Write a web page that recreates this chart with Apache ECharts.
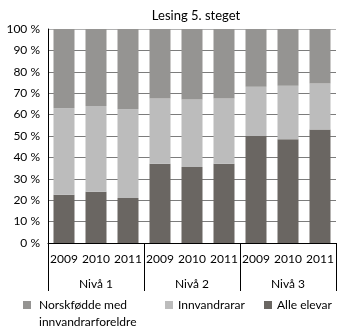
<!DOCTYPE html>
<html>
<head>
<meta charset="utf-8">
<script src="https://cdn.jsdelivr.net/npm/echarts@6/dist/echarts.min.js"></script>
<style>html,body{margin:0;padding:0;background:#fff}#c{width:350px;height:333px}</style>
</head>
<body>
<div id="c"></div>
<script>
var years = ['2009','2010','2011','2009','2010','2011','2009','2010','2011'];
var levels = ['Nivå 1','Nivå 2','Nivå 3'];
var alleElevar = [22.5, 24, 21, 37, 35.5, 37, 50, 48.5, 53];
var innvandrarar = [40.5, 40, 41.5, 30.5, 31.5, 30.5, 23, 25, 21.5];
var norskfodde = [37, 36, 37.5, 32.5, 33, 32.5, 27, 26.5, 25.5];
var yTicks = [0,10,20,30,40,50,60,70,80,90,100];

var FONT = 'Lato';
var chart = echarts.init(document.getElementById('c'));
var gridColors = yTicks.map(function(v){ return v === 100 ? '#b0b0b0' : '#7c7c7c'; });
chart.setOption({
  animation: false,
  textStyle: {fontFamily: FONT},
  title: {
    text: 'Lesing 5. steget', left: 191, top: 4, textAlign: 'center',
    textStyle: {fontFamily: FONT, fontSize: 13, fontWeight: 'normal', color: '#000'}
  },
  grid: {left: 48, right: 14, top: 29, bottom: 90, containLabel: false},
  legend: [
    {data: ['Norskfødde med innvandrarforeldre'], left: 23, top: 279.5, padding: 0, itemWidth: 8, itemHeight: 8,
     icon: 'rect', formatter: function(){ return '\nNorskfødde med\ninnvandrarforeldre'; },
     textStyle: {fontFamily: FONT, fontSize: 12, color: '#000', lineHeight: 17, padding: [0,0,0,3]}},
    {data: ['Innvandrarar'], left: 165, top: 296.5, padding: 0, itemWidth: 8, itemHeight: 8,
     icon: 'rect', textStyle: {fontFamily: FONT, fontSize: 12, color: '#000', lineHeight: 17}},
    {data: ['Alle elevar'], left: 264, top: 296.5, padding: 0, itemWidth: 8, itemHeight: 8,
     icon: 'rect', textStyle: {fontFamily: FONT, fontSize: 12, color: '#000', lineHeight: 17}}
  ],
  xAxis: [
    {type: 'category', data: years, position: 'bottom',
     axisLine: {show: true, lineStyle: {color: '#000', width: 1}},
     axisTick: {show: false},
     axisLabel: {margin: 10, fontSize: 12, color: '#000', fontFamily: FONT, interval: 0}},
    {type: 'category', data: levels, position: 'bottom', offset: 0,
     axisLine: {show: false},
     axisTick: {show: true, length: 48, interval: 0, lineStyle: {color: '#000', width: 1}},
     axisLabel: {margin: 35, fontSize: 12, color: '#000', fontFamily: FONT, interval: 0}}
  ],
  yAxis: {
    type: 'value', min: 0, max: 100, interval: 10,
    axisLine: {show: true, lineStyle: {color: '#000', width: 1}},
    axisTick: {show: false},
    axisLabel: {formatter: '{value} %', margin: 8, fontSize: 12, color: '#000', fontFamily: FONT},
    splitLine: {show: true, lineStyle: {color: gridColors, width: 1}}
  },
  series: [
    {name: 'Alle elevar', type: 'bar', stack: 'a', data: alleElevar, barWidth: 21, xAxisIndex: 0,
     itemStyle: {color: '#6a6662'}},
    {name: 'Innvandrarar', type: 'bar', stack: 'a', data: innvandrarar, barWidth: 21, xAxisIndex: 0,
     itemStyle: {color: '#bcbcbc'}},
    {name: 'Norskfødde med innvandrarforeldre', type: 'bar', stack: 'a', data: norskfodde, barWidth: 21, xAxisIndex: 0,
     itemStyle: {color: '#959492'}}
  ]
});
</script>
</body>
</html>
